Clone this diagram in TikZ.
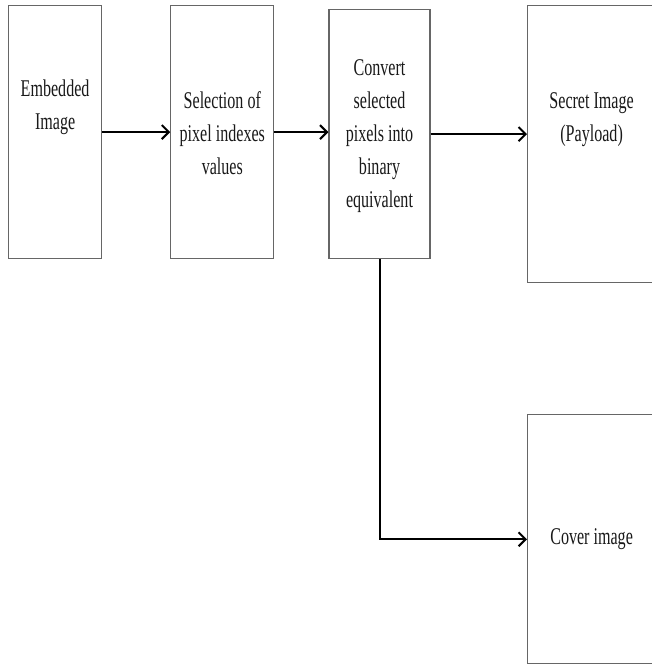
\documentclass[tikz,border=0pt]{standalone}
\usepackage{fontspec}
\setmainfont[FakeStretch=0.67]{Liberation Serif}
\usetikzlibrary{arrows.meta, positioning}

\begin{document}
\begin{tikzpicture}[x=1pt, y=1pt, >={Straight Barb[length=7pt,width=14pt]},
                  caja/.style={draw=black!60, line width=1.2pt, inner sep=0pt},
                  texto/.style={align=center, inner sep=0pt, text=black!90,
                  font=\fontsize{24}{33}\selectfont},
                  flecha/.style={->, line width=2pt}]

                  \useasboundingbox (0,0) rectangle (651,-664);

                  % Asignamos los bloques del diagrama.
                  \node[caja, anchor=north west, minimum width=93, minimum height=253] (emb) at (8,-5) {};
                  \node[caja, right=68pt of emb, minimum width=103, minimum height=253] (sel) {};
                  \node[caja, right=54pt of sel.south east, anchor=south west, minimum width=101,
                        minimum height=249] (conv) {};
                  \node[caja, anchor=north west, minimum width=128, minimum height=277] (sec) at (527,-5) {};
                  \node[caja, below=131pt of sec.south west, anchor=north west, minimum width=128,
                        minimum height=249] (cov) {};

                  % Escribimos los textos de cada bloque.
                  \node[texto] (embt) at ([yshift=25pt]emb.center) {Embedded\\Image};
                  \node[texto] (selt) at ([yshift=-1.5pt]sel.center) {Selection of\\pixel indexes\\values};
                  \node[texto] (convt) at ([yshift=-2.5pt]conv.center)
                  {Convert\\selected\\pixels into\\binary\\equivalent};
                  \node[texto] (sect) at ([yshift=24pt]sec.center) {Secret Image\\(Payload)};
                  \node[texto] (covt) at (cov.center) {Cover image};

                  % Dibujamos las flechas entre los bloques.
                  \draw[flecha] (emb.east) -- (sel.west);
                  \draw[flecha] (sel.east) -- (sel.east -| conv.west);
                  \draw[flecha] (conv.east) -- (conv.east -| sec.west);
                  \draw[flecha] (conv.south) |- (cov.west);

\end{tikzpicture}
\end{document}
